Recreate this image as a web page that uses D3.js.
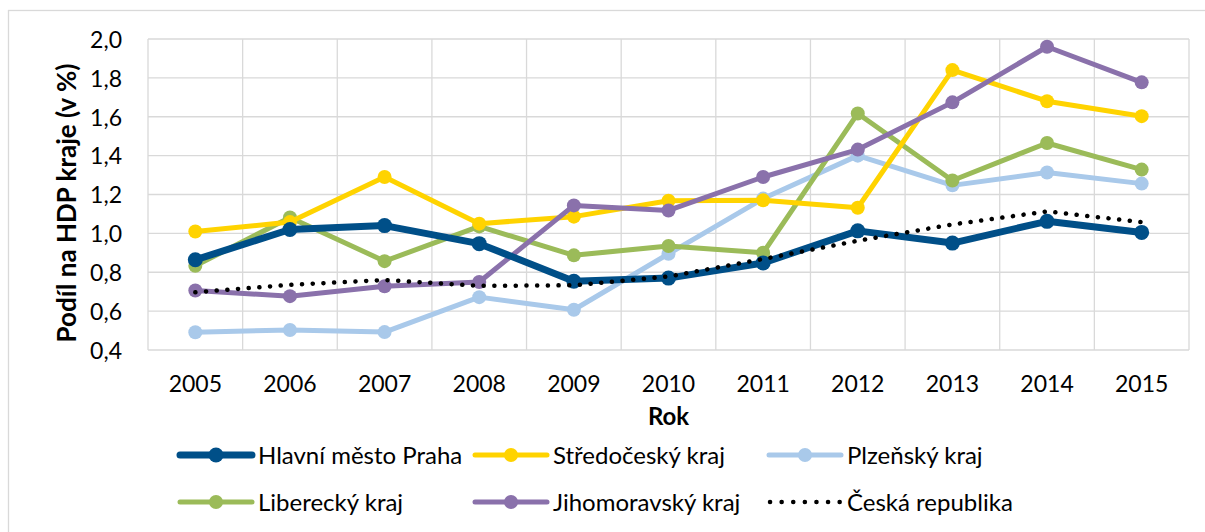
<!DOCTYPE html>
<html>
<head>
<meta charset="utf-8">
<script src="https://cdn.jsdelivr.net/npm/d3@7"></script>
<style>
  body { margin: 0; background: #fff; }
  text { font-family: Lato, "Open Sans", sans-serif; fill: #000; }
</style>
</head>
<body>
<div id="chart"></div>
<script>
var width = 1205;
var height = 532;

var years = ['2005', '2006', '2007', '2008', '2009', '2010', '2011', '2012', '2013', '2014', '2015'];
var yTicks = [0.4, 0.6, 0.8, 1.0, 1.2, 1.4, 1.6, 1.8, 2.0];

var praha = [0.864, 1.02, 1.04, 0.947, 0.754, 0.77, 0.848, 1.013, 0.95, 1.062, 1.005];
var stredocesky = [1.01, 1.058, 1.29, 1.05, 1.086, 1.168, 1.17, 1.132, 1.84, 1.68, 1.603];
var plzensky = [0.491, 0.503, 0.492, 0.672, 0.607, 0.895, 1.179, 1.40, 1.247, 1.313, 1.256];
var liberecky = [0.833, 1.082, 0.857, 1.036, 0.887, 0.935, 0.90, 1.617, 1.272, 1.465, 1.328];
var jihomoravsky = [0.706, 0.677, 0.728, 0.75, 1.144, 1.118, 1.29, 1.431, 1.674, 1.96, 1.777];
var ceskaRepublika = [0.697, 0.735, 0.76, 0.73, 0.733, 0.778, 0.868, 0.962, 1.046, 1.113, 1.058];

var series = [
  {name: 'Hlavní město Praha', values: praha, color: '#004f88', width: 7, r: 7.5, dotted: false},
  {name: 'Středočeský kraj', values: stredocesky, color: '#ffd300', width: 5, r: 7, dotted: false},
  {name: 'Plzeňský kraj', values: plzensky, color: '#a9c9ea', width: 5, r: 7, dotted: false},
  {name: 'Liberecký kraj', values: liberecky, color: '#9bbb59', width: 5, r: 7, dotted: false},
  {name: 'Jihomoravský kraj', values: jihomoravsky, color: '#8a71ab', width: 5, r: 7, dotted: false},
  {name: 'Česká republika', values: ceskaRepublika, color: '#000000', width: 4.5, r: 0, dotted: true}
];

var plot = {left: 148, top: 39, right: 1189, bottom: 350};

var svg = d3.select('#chart')
  .append('svg')
  .attr('width', width)
  .attr('height', height);

svg.append('rect')
  .attr('width', width)
  .attr('height', height)
  .attr('fill', '#fff');

// outer chart border (runs off the right/bottom edge like the original)
svg.append('rect')
  .attr('x', 8.5)
  .attr('y', 10.5)
  .attr('width', 1220)
  .attr('height', 540)
  .attr('fill', 'none')
  .attr('stroke', '#d9d9d9')
  .attr('stroke-width', 1.3);

var x = d3.scaleBand()
  .domain(years)
  .range([plot.left, plot.right]);

var y = d3.scaleLinear()
  .domain([0.4, 2.0])
  .range([plot.bottom, plot.top]);

// grid
var grid = svg.append('g');
grid.selectAll('.hgrid')
  .data(yTicks)
  .enter()
  .append('line')
  .attr('x1', plot.left)
  .attr('x2', plot.right)
  .attr('y1', function(d){ return y(d); })
  .attr('y2', function(d){ return y(d); })
  .attr('stroke', '#d9d9d9')
  .attr('stroke-width', 1.3);

var vlines = years.map(function(d){ return x(d); }).concat([plot.right]);
grid.selectAll('.vgrid')
  .data(vlines)
  .enter()
  .append('line')
  .attr('x1', function(d){ return d; })
  .attr('x2', function(d){ return d; })
  .attr('y1', plot.top)
  .attr('y2', plot.bottom)
  .attr('stroke', '#d9d9d9')
  .attr('stroke-width', 1.3);

// axes
var fmt = function(d){ return d3.format('.1f')(d).replace('.', ','); };

var yAxis = svg.append('g')
  .attr('transform', 'translate(' + (plot.left - 26) + ',0)')
  .call(d3.axisLeft(y).tickValues(yTicks).tickFormat(fmt).tickSize(0));
yAxis.select('.domain').remove();
yAxis.selectAll('text')
  .style('font-size', '23px')
  .style('font-family', 'Lato, sans-serif')
  .attr('x', 0)
  .attr('dy', '0.36em');

var xAxis = svg.append('g')
  .attr('transform', 'translate(0,' + 384 + ')')
  .call(d3.axisBottom(x).tickSize(0));
xAxis.select('.domain').remove();
xAxis.selectAll('text')
  .style('font-size', '23px')
  .style('font-family', 'Lato, sans-serif')
  .attr('y', 0)
  .attr('dy', '0.36em');

svg.append('text')
  .attr('x', (plot.left + plot.right) / 2)
  .attr('y', 415)
  .attr('text-anchor', 'middle')
  .attr('dominant-baseline', 'central')
  .style('font-size', '24px')
  .style('font-weight', 'bold')
  .text('Rok');

svg.append('text')
  .attr('transform', 'translate(66,203) rotate(-90)')
  .attr('text-anchor', 'middle')
  .attr('dominant-baseline', 'central')
  .style('font-size', '26px')
  .style('font-weight', 'bold')
  .text('Podíl na HDP kraje (v %)');

// lines
var cx = function(d, i){ return x(years[i]) + x.bandwidth() / 2; };
var line = d3.line()
  .x(cx)
  .y(function(d){ return y(d); });

var drawOrder = [2, 3, 1, 4, 0, 5];
drawOrder.forEach(function(k){
  var s = series[k];
  var g = svg.append('g');
  var path = g.append('path')
    .datum(s.values)
    .attr('d', line)
    .attr('fill', 'none')
    .attr('stroke', s.color)
    .attr('stroke-width', s.width)
    .attr('stroke-linejoin', 'round')
    .attr('stroke-linecap', 'round');
  if(s.dotted){
    path.attr('stroke-dasharray', '0.1,10.6');
  } else {
    g.selectAll('circle')
      .data(s.values)
      .enter()
      .append('circle')
      .attr('cx', cx)
      .attr('cy', function(d){ return y(d); })
      .attr('r', s.r)
      .attr('fill', s.color);
  }
});

// legend
var legendCols = [180, 475, 769];
var legendRows = [455, 502];
var legend = svg.append('g');
series.forEach(function(s, i){
  var lx = legendCols[i % 3];
  var ly = legendRows[Math.floor(i / 3)];
  var item = legend.append('g');
  var l = item.append('line')
    .attr('x1', lx)
    .attr('x2', lx + 72)
    .attr('y1', ly)
    .attr('y2', ly)
    .attr('stroke', s.color)
    .attr('stroke-width', s.width)
    .attr('stroke-linecap', 'round');
  if(s.dotted){
    l.attr('x1', lx + 1).attr('x2', lx + 71).attr('stroke-dasharray', '0.1,11.5');
  } else {
    item.append('circle')
      .attr('cx', lx + 36)
      .attr('cy', ly)
      .attr('r', s.r)
      .attr('fill', s.color);
  }
  item.append('text')
    .attr('x', lx + 78)
    .attr('y', ly)
    .attr('dy', '0.36em')
    .style('font-size', '24px')
    .text(s.name);
});
</script>
</body>
</html>
